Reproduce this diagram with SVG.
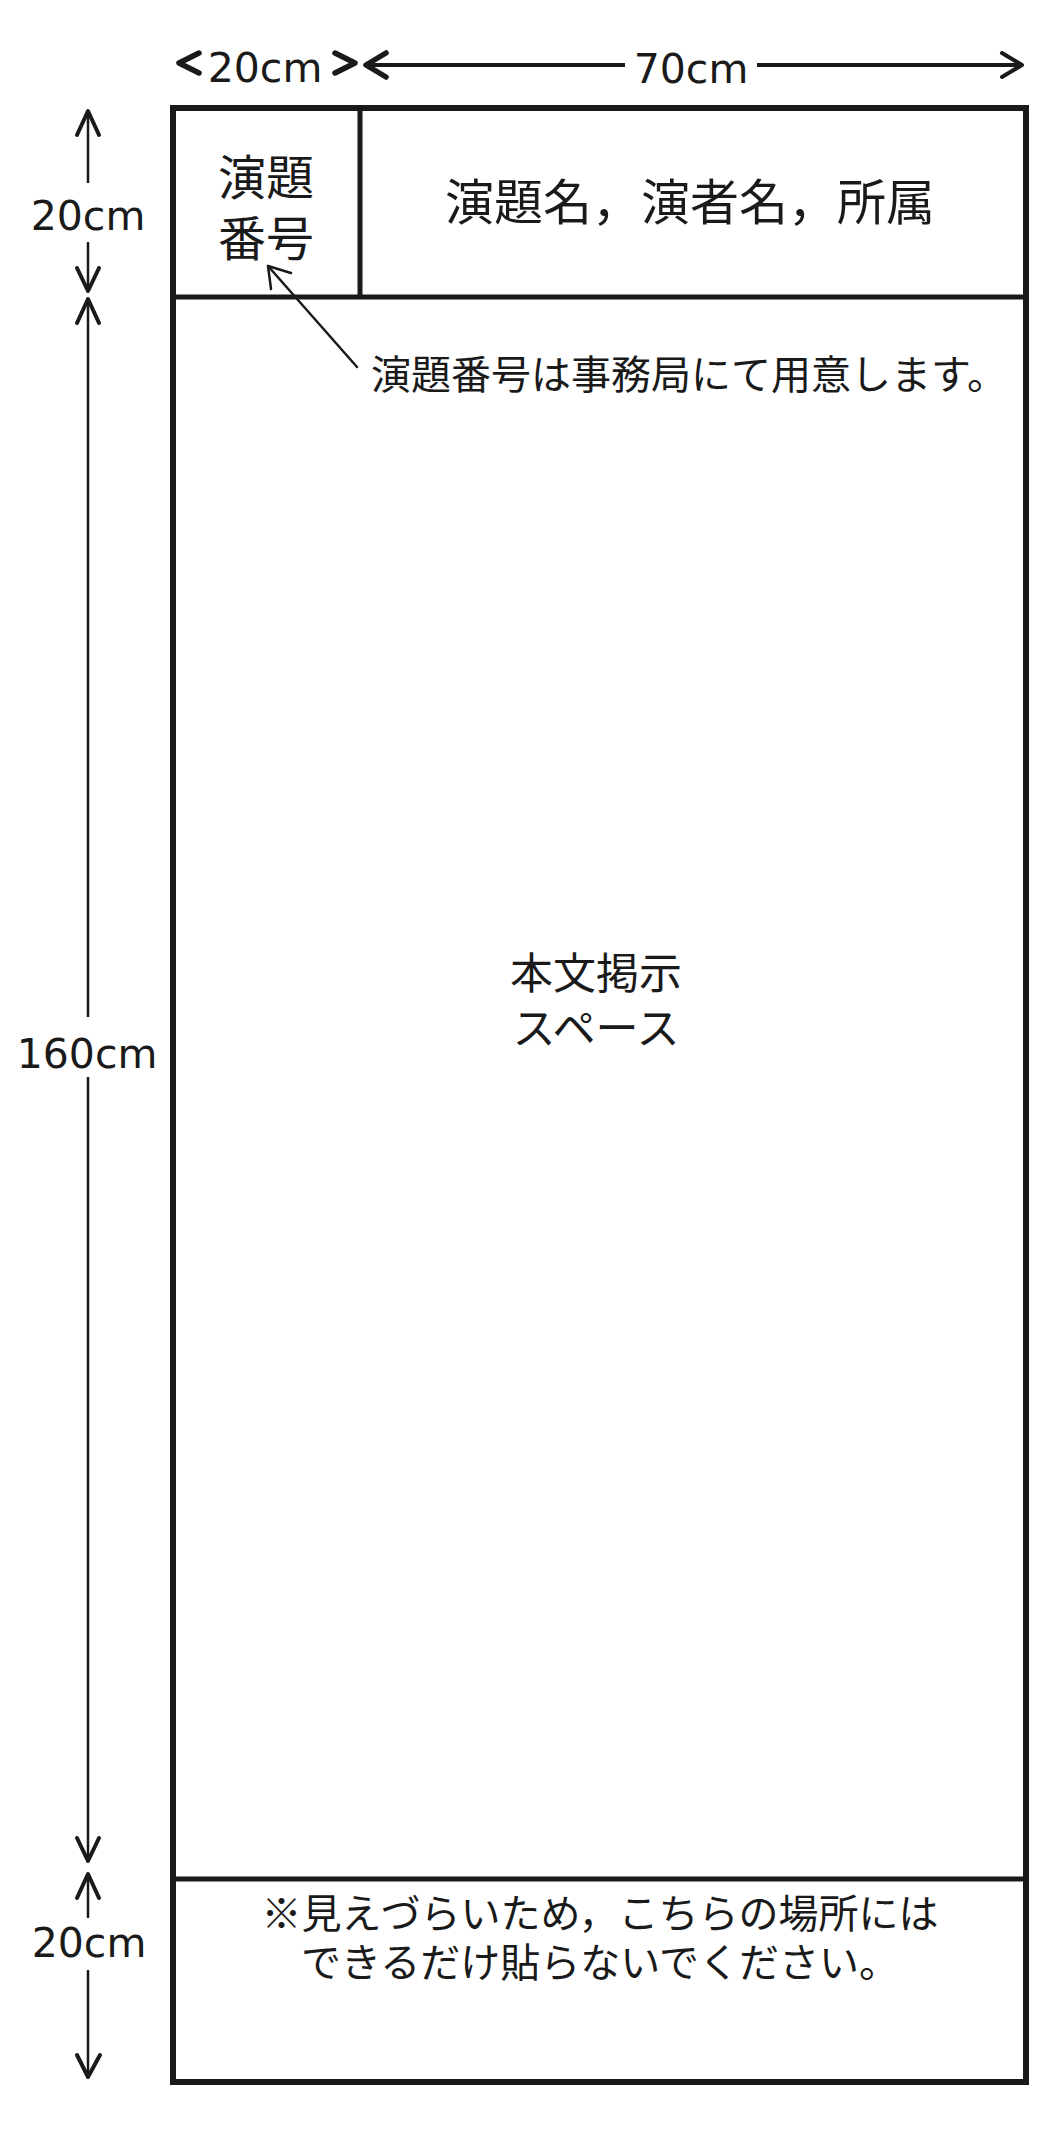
<svg xmlns="http://www.w3.org/2000/svg" width="1061" height="2137" viewBox="0 0 1061 2137">
<style>
.frame{fill:none;stroke:#1a1a1a;stroke-width:6}
.div{fill:none;stroke:#1a1a1a;stroke-width:5}
.dim{fill:none;stroke:#1a1a1a;stroke-width:2.5}
.hdim{fill:none;stroke:#1a1a1a;stroke-width:4}
.head{fill:none;stroke:#1a1a1a;stroke-width:4;stroke-linecap:round;stroke-linejoin:round}
.bold{stroke-width:5.5}
.lead{fill:none;stroke:#1a1a1a;stroke-width:2.5;stroke-linecap:round;stroke-linejoin:round}
.num{font-family:"DejaVu Sans","Liberation Sans",sans-serif;font-size:41px;fill:#1a1a1a;text-anchor:middle}
.jp{font-family:"Noto Sans CJK JP","Noto Sans CJK SC",sans-serif;fill:#1a1a1a}
</style>
<rect width="1061" height="2137" fill="#ffffff"/>

<g id="poster-frame">
  <rect class="frame" x="173" y="108" width="853" height="1974"/>
  <line class="div" x1="173" y1="297" x2="1026" y2="297"/>
  <line class="div" x1="360" y1="108" x2="360" y2="297"/>
  <line class="div" x1="173" y1="1879" x2="1026" y2="1879"/>
</g>

<g id="node-number-cell">
  <text class="jp" x="266" y="195" font-size="48" text-anchor="middle">演題</text>
  <text class="jp" x="266" y="256" font-size="48" text-anchor="middle">番号</text>
</g>

<g id="node-title-cell">
  <text class="jp" x="690" y="220" font-size="49" text-anchor="middle">演題名，演者名，所属</text>
</g>

<g id="node-note">
  <text class="jp" x="371" y="389" font-size="40">演題番号は事務局にて用意します。</text>
</g>

<g id="node-body">
  <text class="jp" x="596" y="989" font-size="43" text-anchor="middle">本文掲示</text>
  <text class="jp" x="596" y="1044" font-size="43" text-anchor="middle">スペース</text>
</g>

<g id="node-footer">
  <text class="jp" x="600" y="1928" font-size="40" text-anchor="middle">※見えづらいため，こちらの場所には</text>
  <text class="jp" x="600" y="1977" font-size="40" text-anchor="middle">できるだけ貼らないでください。</text>
</g>

<g id="dimension-labels">
  <text class="num" x="265" y="82">20cm</text>
  <text class="num" x="691" y="83">70cm</text>
  <text class="num" x="88" y="230">20cm</text>
  <text class="num" x="87" y="1068">160cm</text>
  <text class="num" x="89" y="1957">20cm</text>
</g>

<g id="connectors">
  <!-- top 20cm width -->
  <polyline class="head bold" points="199,53 179,63 199,73"/>
  <polyline class="head bold" points="335,53 355,63 335,73"/>
  <!-- top 70cm width -->
  <line class="hdim" x1="366" y1="65" x2="625" y2="65"/>
  <line class="hdim" x1="757" y1="65" x2="1022" y2="65"/>
  <polyline class="head bold" points="386,53 366,65 386,77"/>
  <polyline class="head" points="1002,53 1022,65 1002,77"/>
  <!-- left 20cm header height -->
  <line class="dim" x1="88" y1="111" x2="88" y2="183"/>
  <line class="dim" x1="88" y1="242" x2="88" y2="291"/>
  <polyline class="head" points="77,135 88,111 99,135"/>
  <polyline class="head" points="77,268 88,291 99,268"/>
  <!-- 160cm body height -->
  <line class="dim" x1="88" y1="299" x2="88" y2="1017"/>
  <line class="dim" x1="88" y1="1077" x2="88" y2="1861"/>
  <polyline class="head" points="77,323 88,299 99,323"/>
  <polyline class="head" points="77,1838 88,1861 99,1838"/>
  <!-- bottom 20cm footer height -->
  <line class="dim" x1="88" y1="1874" x2="88" y2="1918"/>
  <line class="dim" x1="88" y1="1970" x2="88" y2="2077"/>
  <polyline class="head" points="77,1898 88,1874 99,1898"/>
  <polyline class="head" points="77,2055 88,2077 100,2055"/>
  <!-- note leader arrow -->
  <line class="lead" x1="357" y1="367" x2="268" y2="266"/>
  <polyline class="lead" points="271,289 268,266 291,273"/>
</g>
</svg>
